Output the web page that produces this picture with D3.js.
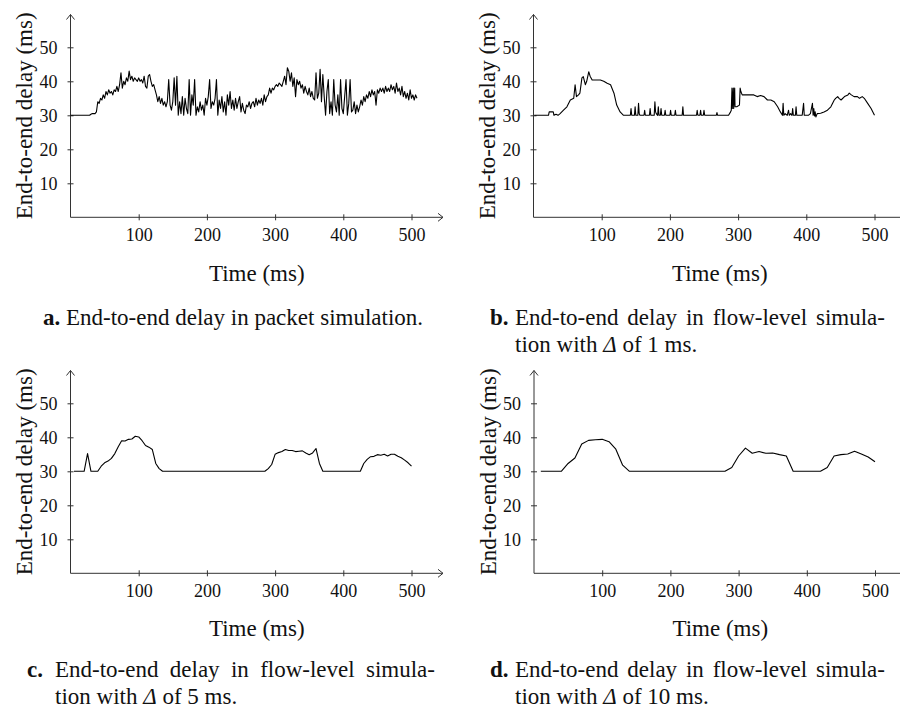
<!DOCTYPE html>
<html>
<head>
<meta charset="utf-8">
<script src="https://cdn.jsdelivr.net/npm/d3@7"></script>
<style>
  body { margin: 0; background: #fff; }
  svg { display: block; font-family: "Liberation Serif", "Times New Roman", serif; }
</style>
</head>
<body>
<svg id="chart" width="900" height="713"></svg>
<script>
// tick values shared by all four panels
var tickX = [100, 200, 300, 400, 500];
var tickY = [10, 20, 30, 40, 50];

// a. packet simulation, sampled every 2 ms
var timeA = d3.range(0, 510, 2);
var delayA = [
  30,30,30,30,30,30,30,30,30,30,
  30,30,30,30,30,30.3,30.5,30.5,30.5,31,
  34,33.5,35,34.5,36,35,37,36,37.5,36.5,
  37,36,37.5,37,38.5,37,39,42.5,38,40,
  39,41,40,43,40.5,41.5,40,41,40.5,40,
  41,40,40.5,39.5,41.5,38.5,38,41.5,42,40,
  38.5,39,37.5,36,34,35.5,33.5,35,33,34,
  32.5,34,40.5,33,31.5,34,41,33,41.5,30,
  34,30.5,35.5,30,35,32,30.5,40.5,30,36,
  33,40.5,30,32.5,31,34,31.5,33,30,35,
  33,35.5,40.5,32,34,33,35,40.5,30,34.5,
  32,35.5,31,34,30,36,33,37,32,34.5,
  31.5,35,32,34,35.5,31,33.5,31.5,30.5,33,
  32.5,34,32,33.5,34,32.5,35,33,34.5,33.5,
  35,33,36,34,35.5,36,38,36.5,38,37.5,
  38.5,39,38.5,39.5,39,38.5,40,41.5,39,44,
  43,40,42.5,38.5,41,35.5,40.5,39,40,38,
  39,36.5,38.5,37,36,38,35.5,37,35,34.5,
  42.5,35,36.5,43.5,34,42,35.5,30,37,40.5,
  30.5,34,30,40.5,33,31,36,30,40.5,32,
  30.5,35.5,40.5,30,33.5,40.5,31,31.5,34,30.5,
  33,31,32.5,34.5,33,35.5,34,36,35,37,
  35.5,37.5,36,37,33,37.5,36.5,38,37,38,
  36.5,38.5,37,38,37,39,37.5,38.5,36.5,39.5,
  37,38,36,38.5,35.5,37,35,36.5,34.5,37.5,
  35,36,34.5,36,35
];

// b. flow-level, delta 1 ms
var timeB = [1,22,23,29,30,33,36,39,44,49,54,59,61,63,66,68,71,73,76,78,81,83,86,98,103,108,113,118,122,127,132,
  142,143,144,148,149,150,153,154,155,156,162,163,164,170,171,172,177,178,179,180,182,183,184,186,187,188,
  192,193,194,200,201,202,207,208,209,218,219,220,239,240,241,244,245,246,249,250,251,268,269,270,
  286,289,290,291,291.5,293,293.5,295,295.5,298,302,303,304,306,323,328,333,338,343,348,353,358,362,
  365,366,367,369,372,374,375,377,379,380,381,384,385,386,394,396,397,403,406,409,410,411,412,413,414,416,
  421,426,431,436,441,443,446,448,451,456,461,463,466,470,475,478,482,485,490,495,500];
var delayB = [30,30,31,31,30,30.3,30,30.5,31.5,32.5,34.5,35,39,35.5,36,36.5,41,41.4,39,40,42.8,41.5,40.4,40.4,40,39.4,39,36.5,33,31,30,
  30,32,30,30,32.5,30,30,33.5,30.5,30,30,31.5,30,30,32,30,30,34,31,30.5,30,32.5,30,30,32,30,
  30,31.5,30,30,31.5,30,30,31.5,30,30,32.5,30,30,31.5,30,30,31.5,30,30,31.5,30,30,30.8,30,
  30,31,31.5,38,32,38,32,38,32.5,32.5,33,38,37,36,36,35.5,35.8,35.5,34.5,34.5,34,32.5,31,
  30,33.5,30,30.5,30,31.5,30,30.5,30,32,30,30,32.5,30,30,33.5,30,30,30.5,33.5,30,32,29.8,31,29.5,30.5,
  30.6,31,31.5,32.5,34.5,35,35.5,35,34.5,35.5,36,36.5,36,35.5,35.5,35,35.5,35,33.5,32,30];

// c. flow-level, delta 5 ms
var timeC = [5,20,25,30,40,45,50,55,60,65,70,75,80,85,90,95,100,105,110,115,120,125,130,135,
  285,290,295,300,305,310,315,320,325,330,335,340,345,350,355,360,365,370,
  425,430,435,440,445,450,455,460,465,470,475,480,485,490,495,500];
var delayC = [30,30,35.2,30,30,31.5,32.5,33,33.8,35.2,37.2,39,38.9,39.4,39.5,40.3,40.1,39,37.6,37.1,36.4,32.3,30.8,30,
  30,30.8,32,35,35.5,35.8,36.4,36.1,36.1,35.8,35.9,36,35.4,34.9,35.4,36.7,32.3,30,
  30,32.3,33.5,34.3,34.4,34.9,34.7,35,34.5,35,35,34.4,34,33.3,32.5,31.5];

// d. flow-level, delta 10 ms
var timeD = [10,40,50,60,70,80,90,100,110,120,130,140,280,290,300,310,320,330,340,350,360,370,380,420,430,440,450,460,470,480,490,500];
var delayD = [30,30,32.3,33.9,38,39.1,39.3,39.4,38.7,36.5,31.8,30,30,31.1,34.5,36.8,35.3,35.8,35.3,35.4,34.9,34.5,30,30,31.1,34.5,34.9,35.1,35.9,35.1,34.2,32.8];

var captionWords = ['End-to-end', 'delay', 'in', 'flow-level', 'simula-'];

var svg = d3.select('#chart');

var x = d3.scaleLinear().domain([0, 500]).range([0, 341]);
var y = d3.scaleLinear().domain([0, 50]).range([0, -170]);

var panels = [
  { t: timeA, v: delayA, ox: 70.5, oy: 217.3, letter: 'a.', lx: 43, tx: 66, rx: 423, cy: 325, delta: null, timeY: 281.5 },
  { t: timeB, v: delayB, ox: 533.5, oy: 217.3, letter: 'b.', lx: 490, tx: 515, rx: 885, cy: 325, delta: '1', timeY: 281.5 },
  { t: timeC, v: delayC, ox: 70.5, oy: 573.3, letter: 'c.', lx: 27, tx: 55, rx: 435, cy: 677, delta: '5', timeY: 636 },
  { t: timeD, v: delayD, ox: 534, oy: 573.3, letter: 'd.', lx: 490, tx: 515, rx: 885, cy: 677, delta: '10', timeY: 636 }
];

var line = d3.line()
  .x(function(d) { return x(d[0]); })
  .y(function(d) { return y(d[1]); });

panels.forEach(function(p) {
  var g = svg.append('g').attr('transform', 'translate(' + p.ox + ',' + p.oy + ')');

  // x axis ticks + labels
  var gx = g.append('g').call(d3.axisBottom(x).tickValues(tickX).tickSizeOuter(0).tickSize(3));
  gx.select('.domain').remove();
  gx.selectAll('.tick line').attr('y1', -3).attr('y2', 3).attr('stroke', '#333');
  gx.selectAll('.tick text').attr('y', 24).attr('dy', 0)
    .attr('font-family', '"Liberation Serif", serif').attr('font-size', 18).attr('fill', '#111');

  var gy = g.append('g').call(d3.axisLeft(y).tickValues(tickY).tickSizeOuter(0).tickSize(3));
  gy.select('.domain').remove();
  gy.selectAll('.tick line').attr('x1', -3).attr('x2', 3).attr('stroke', '#333');
  gy.selectAll('.tick text').attr('x', -13).attr('dy', '0.33em')
    .attr('font-family', '"Liberation Serif", serif').attr('font-size', 18).attr('fill', '#111');

  // axis lines with open arrow heads
  var xEnd = 372.5, yTop = -202.8;
  g.append('path')
    .attr('d', 'M0,0H' + xEnd + 'M' + (xEnd - 5) + ',-4L' + xEnd + ',0L' + (xEnd - 5) + ',4' +
               'M0,0V' + yTop + 'M-4,' + (yTop + 5) + 'L0,' + yTop + 'L4,' + (yTop + 5))
    .attr('fill', 'none').attr('stroke', '#333').attr('stroke-width', 1);

  // data
  g.append('path')
    .datum(p.t.map(function(t, i) { return [t, p.v[i]]; }))
    .attr('fill', 'none')
    .attr('stroke', '#000')
    .attr('stroke-width', 1.1)
    .attr('stroke-linejoin', 'round')
    .attr('d', line);

  // axis titles
  g.append('text')
    .attr('x', xEnd / 2).attr('y', p.timeY - p.oy)
    .attr('text-anchor', 'middle').attr('font-size', 23).attr('fill', '#111')
    .text('Time (ms)');

  g.append('text')
    .attr('transform', 'translate(-38.5,' + (yTop / 2) + ') rotate(-90)')
    .attr('text-anchor', 'middle').attr('font-size', 23).attr('fill', '#111')
    .text('End-to-end delay (ms)');

  // caption
  var cap = svg.append('g').attr('font-size', 23).attr('fill', '#111');
  if (!p.delta) {
    var t = cap.append('text').attr('x', p.lx).attr('y', p.cy);
    t.append('tspan').attr('font-weight', 'bold').text('a.');
    t.append('tspan').text(' End-to-end delay in packet simulation.');
    return;
  }
  cap.append('text').attr('x', p.lx).attr('y', p.cy).attr('font-weight', 'bold').text(p.letter);
  var nodes = captionWords.map(function(w) {
    return cap.append('text').attr('y', p.cy).text(w);
  });
  var widths = nodes.map(function(n) { return n.node().getComputedTextLength(); });
  var gap = (p.rx - p.tx - d3.sum(widths)) / (nodes.length - 1);
  var cx = p.tx;
  nodes.forEach(function(n, i) { n.attr('x', cx); cx += widths[i] + gap; });

  var l2 = cap.append('text').attr('x', p.tx).attr('y', p.cy + 27);
  l2.append('tspan').text('tion with ');
  l2.append('tspan').attr('font-style', 'italic').text('\u0394');
  l2.append('tspan').text(' of ' + p.delta + ' ms.');
});
</script>
</body>
</html>
